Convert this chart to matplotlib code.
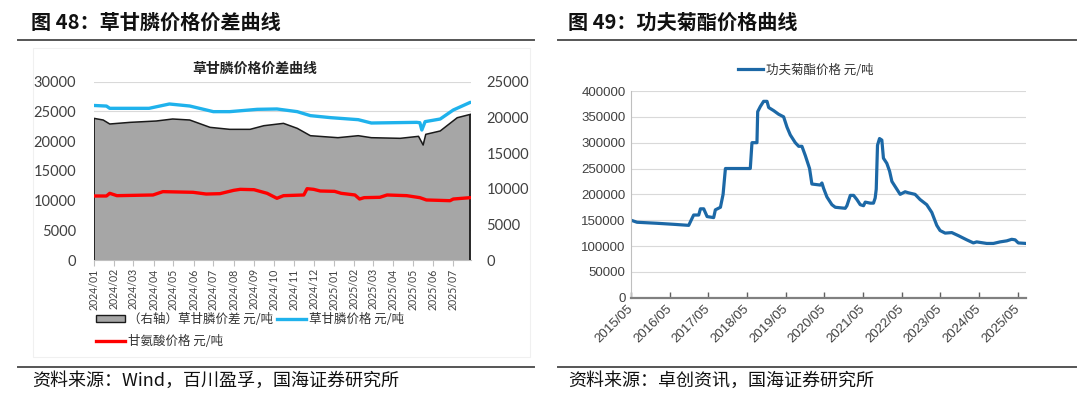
import matplotlib
matplotlib.use("Agg")
import matplotlib.pyplot as plt
import pandas as pd
from matplotlib.lines import Line2D
from matplotlib.patches import Patch, Rectangle

plt.rcParams['font.family'] = ['Noto Sans CJK SC', 'DejaVu Sans']

# ---------------- data: Figure 48 ----------------
gly_dates = ["2024-01-01", "2024-01-20", "2024-01-25", "2024-03-25", "2024-04-25", "2024-05-26",
             "2024-07-01", "2024-07-26", "2024-09-06", "2024-10-06", "2024-11-06", "2024-11-26",
             "2024-12-27", "2025-02-07", "2025-02-27", "2025-05-07", "2025-05-12", "2025-05-15",
             "2025-05-20", "2025-06-12", "2025-07-02", "2025-07-28"]
gly_price = [26000, 25900, 25520, 25520, 26250, 25910,
             24960, 24960, 25350, 25410, 24960, 24290,
             23950, 23610, 23050, 23160, 23100, 21870,
             23280, 23720, 25240, 26530]

glycine_dates = ["2024-01-01", "2024-01-20", "2024-01-25", "2024-02-05", "2024-03-31", "2024-04-15",
                 "2024-05-31", "2024-06-20", "2024-07-11", "2024-08-01", "2024-08-11", "2024-09-01",
                 "2024-09-21", "2024-10-06", "2024-10-16", "2024-11-16", "2024-11-21", "2024-12-01",
                 "2024-12-11", "2025-01-02", "2025-01-12", "2025-02-02", "2025-02-09", "2025-02-16",
                 "2025-03-12", "2025-03-23", "2025-04-22", "2025-05-12", "2025-05-22", "2025-06-27",
                 "2025-07-02", "2025-07-28"]
glycine_price = [10770, 10770, 11220, 10825, 10940, 11500,
                 11390, 11100, 11160, 11720, 11890, 11830,
                 11220, 10380, 10825, 10940, 12000, 11890,
                 11610, 11550, 11220, 10940, 10260, 10490,
                 10550, 10940, 10825, 10490, 10100, 9980,
                 10260, 10490]

spread_dates = ["2024-01-01", "2024-01-15", "2024-01-25", "2024-02-25", "2024-04-05", "2024-04-30",
                "2024-05-26", "2024-06-26", "2024-07-26", "2024-08-26", "2024-09-16", "2024-10-16",
                "2024-11-06", "2024-11-26", "2025-01-07", "2025-02-07", "2025-02-27", "2025-04-12",
                "2025-05-10", "2025-05-17", "2025-05-21", "2025-06-12", "2025-07-08", "2025-07-28"]
spread = [19860, 19630, 19070, 19300, 19490, 19770,
          19630, 18600, 18320, 18320, 18830, 19160,
          18460, 17430, 17150, 17430, 17150, 17060,
          17340, 16120, 17620, 18090, 19950, 20420]

# ---------------- data: Figure 49 ----------------
lc_dates = ["2015-05-01", "2015-06-27", "2016-01-02", "2016-06-08", "2016-10-27", "2016-12-13",
            "2017-01-30", "2017-02-15", "2017-03-18", "2017-04-19", "2017-06-20", "2017-07-06",
            "2017-08-23", "2017-09-17", "2017-10-09", "2018-06-01", "2018-06-17", "2018-08-03",
            "2018-08-10", "2018-09-04", "2018-10-05", "2018-11-06", "2018-11-22", "2019-01-08",
            "2019-02-24", "2019-04-12", "2019-05-14", "2019-06-14", "2019-07-31", "2019-09-01",
            "2019-10-02", "2019-11-03", "2019-12-13", "2020-01-04", "2020-03-23", "2020-04-08",
            "2020-04-23", "2020-05-25", "2020-07-11", "2020-08-12", "2020-11-14", "2020-11-30",
            "2021-01-01", "2021-02-01", "2021-03-04", "2021-04-05", "2021-05-06", "2021-05-22",
            "2021-07-08", "2021-08-08", "2021-08-24", "2021-09-03", "2021-09-15", "2021-10-04",
            "2021-10-26", "2021-11-10", "2021-12-12", "2022-01-07", "2022-01-29", "2022-03-01",
            "2022-04-17", "2022-06-03", "2022-07-04", "2022-09-05", "2022-10-22", "2022-12-24",
            "2023-02-10", "2023-03-29", "2023-04-29", "2023-06-16", "2023-08-18", "2023-10-20",
            "2024-01-06", "2024-03-09", "2024-04-09", "2024-07-13", "2024-09-14", "2024-11-16",
            "2025-01-18", "2025-03-06", "2025-04-07", "2025-05-07", "2025-07-19"]
lc_price = [150000, 146000, 144000, 142000, 140000, 160000,
            160000, 172000, 172000, 157000, 155000, 170000,
            175000, 200000, 250000, 250000, 300000, 300000,
            360000, 370000, 380000, 380000, 368000, 362000,
            355000, 350000, 330000, 315000, 300000, 293000,
            293000, 275000, 250000, 220000, 218000, 222000,
            212000, 195000, 180000, 175000, 173000, 178000,
            198000, 198000, 190000, 180000, 178000, 185000,
            183000, 183000, 193000, 210000, 295000, 308000,
            305000, 270000, 260000, 245000, 225000, 215000,
            200000, 205000, 203000, 200000, 190000, 180000,
            165000, 140000, 130000, 125000, 126000, 120000,
            112000, 106000, 108000, 105000, 105000, 108000,
            110000, 113000, 112000, 106000, 105000]

left_yticks = [0, 5000, 10000, 15000, 20000, 25000, 30000]
right_yticks = [0, 5000, 10000, 15000, 20000, 25000]
lc_yticks = [0, 50000, 100000, 150000, 200000, 250000, 300000, 350000, 400000]

title48 = "图 48：草甘膦价格价差曲线"
title49 = "图 49：功夫菊酯价格曲线"
inner48 = "草甘膦价格价差曲线"
lab_spread = "（右轴）草甘膦价差 元/吨"
lab_gly = "草甘膦价格 元/吨"
lab_glycine = "甘氨酸价格 元/吨"
lab_lc = "功夫菊酯价格 元/吨"
src48 = "资料来源：Wind，百川盈孚，国海证券研究所"
src49 = "资料来源：卓创资讯，国海证券研究所"

W, H = 1080, 399
fig = plt.figure(figsize=(W / 100, H / 100), dpi=100)
fig.patch.set_facecolor('white')

def fx(x):
    return x / W

def fy(y):
    return 1 - y / H

# faint panel frame for left chart
fig.add_artist(Rectangle((fx(33), fy(357)), fx(497), (357 - 48) / H, transform=fig.transFigure,
                         facecolor='none', edgecolor='#f0f0f0', lw=0.8))

# headings and separators
fig.text(fx(31), fy(22), title48, fontsize=14.5, fontweight='bold', va='center', ha='left', color='#111111')
fig.text(fx(568), fy(22), title49, fontsize=14.5, fontweight='bold', va='center', ha='left', color='#111111')
for x0, x1 in [(18, 534), (558, 1076)]:
    fig.add_artist(Line2D([fx(x0), fx(x1)], [fy(40), fy(40)], transform=fig.transFigure, color='#555555', lw=1.4))
    fig.add_artist(Line2D([fx(x0), fx(x1)], [fy(367), fy(367)], transform=fig.transFigure, color='#555555', lw=1.4))
fig.text(fx(32), fy(381), src48, fontsize=13, va='center', ha='left', color='#111111')
fig.text(fx(568), fy(381), src49, fontsize=13, va='center', ha='left', color='#111111')

# ---------------- left chart ----------------
gd = pd.to_datetime(gly_dates)
cd = pd.to_datetime(glycine_dates)
sd = pd.to_datetime(spread_dates)

pos = [fx(94), fy(260), fx(471) - fx(94), (260 - 81.7) / H]
axL = fig.add_axes(pos)
axL.set_ylim(0, 30000)
axL.set_yticks(left_yticks)
axL.set_yticklabels([str(v) for v in left_yticks], fontfamily='Lato', fontsize=10.5, color='#404040')
axL.grid(axis='y', color='#d9d9d9', lw=0.8)
axL.set_axisbelow(True)
for s in ['top', 'left', 'right']:
    axL.spines[s].set_visible(False)
axL.spines['bottom'].set_color('#bfbfbf')
axL.tick_params(axis='y', length=0, pad=13)
xt = pd.date_range('2024-01-01', '2025-07-01', freq='MS')
axL.set_xticks(xt)
axL.set_xticklabels([d.strftime('%Y/%m') for d in xt], rotation=90, fontfamily='Lato', fontsize=7.6, color='#404040')
axL.tick_params(axis='x', length=4, color='#bfbfbf', direction='out', pad=2)
axL.set_xlim(pd.Timestamp('2024-01-01'), pd.Timestamp('2025-07-29'))

axR = axL.twinx()
axR.set_ylim(0, 25000)
axR.set_yticks(right_yticks)
axR.set_yticklabels([str(v) for v in right_yticks], fontfamily='Lato', fontsize=10.5, color='#404040')
axR.tick_params(axis='y', length=0, pad=11)
for s in ['top', 'left', 'right', 'bottom']:
    axR.spines[s].set_visible(False)
axR.fill_between(sd, spread, 0, facecolor='#a6a6a6', edgecolor='none')
axR.plot(sd, spread, color='#1a1a1a', lw=1.1)
axR.vlines([sd[0], sd[-1]], 0, [spread[0], spread[-1]], color='#1a1a1a', lw=1.3)

axLines = fig.add_axes(pos, sharex=axL, sharey=axL)
axLines.set_axis_off()
axLines.plot(gd, gly_price, color='#1fb2ec', lw=2.4, solid_capstyle='round')
axLines.plot(cd, glycine_price, color='#ff0000', lw=2.4, solid_capstyle='round')

fig.text(fx(255), fy(69), inner48, fontsize=10, fontweight='bold', ha='center', va='center', color='#222222')

h_spread = Patch(facecolor='#a6a6a6', edgecolor='#1a1a1a', lw=1.0)
h_gly = Line2D([], [], color='#1fb2ec', lw=2.4)
h_glycine = Line2D([], [], color='#ff0000', lw=2.4)
fig.legend([h_spread, h_glycine, h_gly], [lab_spread, lab_glycine, lab_gly], ncol=2,
           loc='upper left', bbox_to_anchor=(fx(96), fy(313)), frameon=False, fontsize=9,
           handlelength=2.3, handleheight=0.55, handletextpad=0.3, columnspacing=0.25,
           labelspacing=0.75, borderaxespad=0, borderpad=0, labelcolor='#333333')

# ---------------- right chart ----------------
ld = pd.to_datetime(lc_dates)
axC = fig.add_axes([fx(631), fy(297.7), fx(1026) - fx(631), (297.7 - 91) / H])
axC.plot(ld, lc_price, color='#1c68a6', lw=2.3)
axC.set_ylim(0, 400000)
axC.set_yticks(lc_yticks)
axC.set_yticklabels([str(v) for v in lc_yticks], fontfamily='Liberation Sans', fontsize=9.5, color='#404040')
axC.grid(axis='y', color='#d9d9d9', lw=0.8)
axC.set_axisbelow(True)
axC.spines['top'].set_visible(False)
axC.spines['right'].set_visible(False)
axC.spines['left'].set_color('#bfbfbf')
axC.spines['left'].set_linewidth(0.8)
axC.spines['bottom'].set_color('#808080')
axC.spines['bottom'].set_linewidth(1.6)
axC.tick_params(axis='y', length=0, pad=4)
xt2 = pd.date_range('2015-05-01', '2025-05-01', freq='12MS')
axC.set_xticks(xt2)
axC.set_xticklabels([d.strftime('%Y/%m') for d in xt2], rotation=45, ha='right', va='center',
                    rotation_mode='anchor', fontfamily='Liberation Sans', fontsize=9.5, color='#404040')
axC.tick_params(axis='x', direction='in', length=4, width=1, color='#606060', pad=7)
axC.set_xlim(pd.Timestamp('2015-05-01'), pd.Timestamp('2025-07-19'))

h_lc = Line2D([], [], color='#1c68a6', lw=2.3)
fig.legend([h_lc], [lab_lc], loc='center', bbox_to_anchor=(fx(806), fy(70)), frameon=False,
           fontsize=9, handlelength=2.0, handletextpad=0.2, borderpad=0, labelcolor='#333333')

fig.savefig('out.png', dpi=100, facecolor='white')
